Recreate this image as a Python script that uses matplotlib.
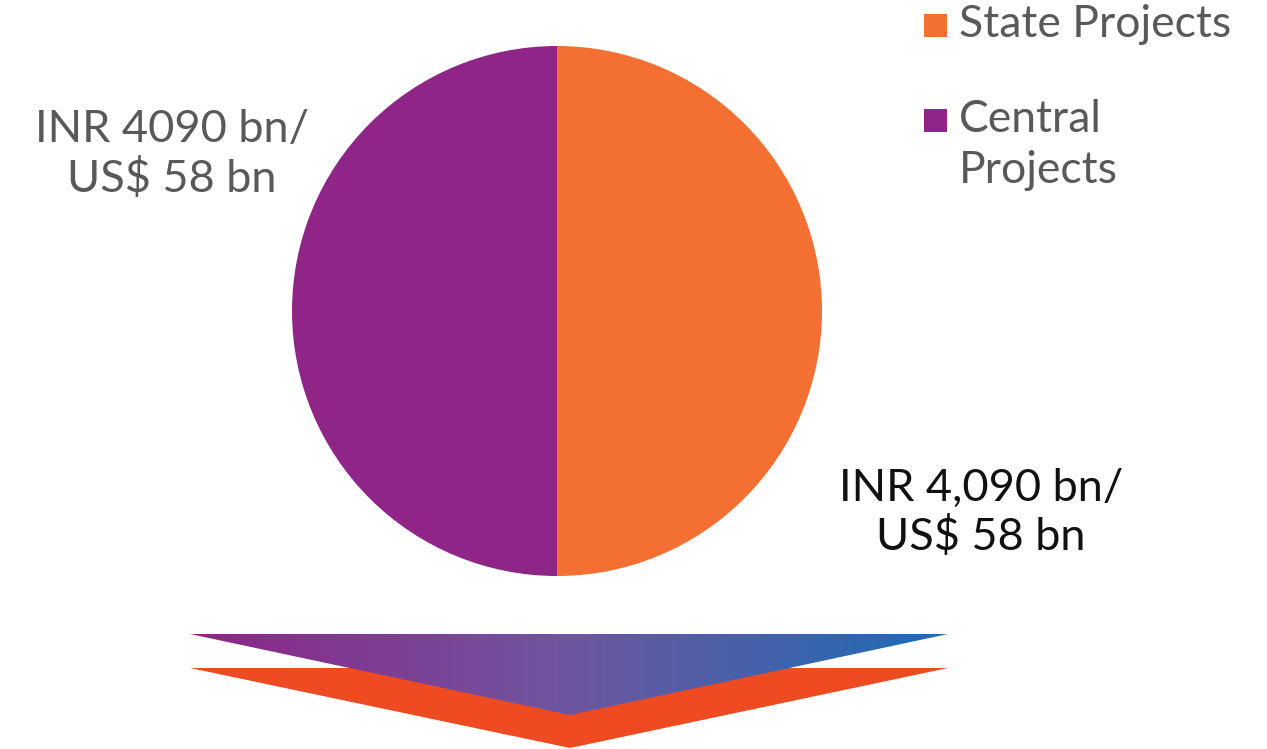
import matplotlib
matplotlib.use("Agg")
import matplotlib.pyplot as plt
import numpy as np
from matplotlib.patches import Polygon, Rectangle
from matplotlib.colors import LinearSegmentedColormap

# data
categories = ["State Projects", "Central Projects"]
values = [4090, 4090]
label_lines = [["INR 4,090 bn/", "US$ 58 bn"], ["INR 4090 bn/", "US$ 58 bn"]]
legend_lines = [["State Projects"], ["Central", "Projects"]]
colors = ["#F37032", "#8E2587"]

W, H = 1267, 749
plt.rcParams["font.family"] = ["Lato", "DejaVu Sans"]

fig = plt.figure(figsize=(W / 100, H / 100), dpi=100)
ax = fig.add_axes([0, 0, 1, 1])


def y(v):
    # pixel row -> data y
    return H - v


# pie: State on the right, Central on the left
ax.pie(values, colors=colors, startangle=90, counterclock=False,
       center=(557, y(311)), radius=265, frame=True,
       wedgeprops=dict(linewidth=0))

# value labels, one text per line (baselines)
for x0, bases, col, lines in [(981, [501, 550], "#111111", label_lines[0]),
                              (172, [142, 192], "#595959", label_lines[1])]:
    for b, s in zip(bases, lines):
        ax.text(x0, y(b), s, ha="center", va="baseline", fontsize=32.5, color=col)

# legend
sq_centers = [25.5, 120.5]
leg_bases = [[37], [132, 183]]
for c, sc, bases, lines in zip(colors, sq_centers, leg_bases, legend_lines):
    ax.add_patch(Rectangle((924, y(sc) - 11.5), 23, 23, color=c, lw=0))
    for b, s in zip(bases, lines):
        ax.text(959, y(b), s, ha="left", va="baseline", fontsize=32,
                color="#595959")

# chevrons below the pie
orange = Polygon([(190, y(668)), (948, y(668)), (570, y(748))],
                 closed=True, color="#EF4B23", lw=0)
ax.add_patch(orange)

grad_poly = Polygon([(190, y(634)), (948, y(634)), (570, y(715))],
                    closed=True, facecolor="none", lw=0)
ax.add_patch(grad_poly)
cmap = LinearSegmentedColormap.from_list("g", ["#8E2587", "#6E56A0", "#1B6DB5"])
grad = np.linspace(0, 1, 256).reshape(1, -1)
im = ax.imshow(grad, cmap=cmap, aspect="auto",
               extent=(190, 948, y(715), y(634)), zorder=3)
im.set_clip_path(grad_poly)
ax.set_xlim(0, W)
ax.set_ylim(0, H)
ax.axis("off")

fig.savefig("out.png", dpi=100)
